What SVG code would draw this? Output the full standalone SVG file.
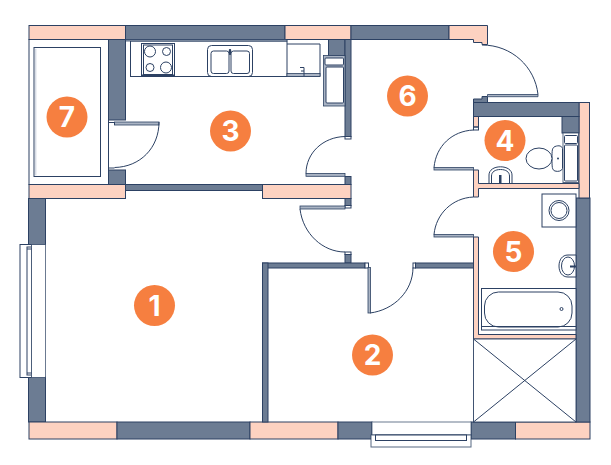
<svg xmlns="http://www.w3.org/2000/svg" width="611" height="465" viewBox="0 0 611 465">
<style>
.w{fill:#6c7c93;stroke:#2c4163;stroke-width:1}
.p{fill:#fdd2c1;stroke:#2c4163;stroke-width:1}
.l{fill:#fff;stroke:#2c4163;stroke-width:1}
.n{fill:none;stroke:#2c4163;stroke-width:1}
.s{fill:#aab4c4;stroke:#2c4163;stroke-width:.8}
.b{fill:#f67f40}
.t{fill:#fff;font-family:Inter,"Liberation Sans",sans-serif;font-weight:700;font-size:28px;text-anchor:middle}
</style>
<rect width="611" height="465" fill="#fff"/>
<g id="walls">
<rect class="n" x="29" y="39.5" width="79.5" height="145"/>
<rect class="p" x="29" y="25.5" width="96.5" height="14"/>
<rect class="w" x="125.5" y="25.5" width="159.5" height="14"/>
<path class="p" d="M285 25.5H351V39.5H285Z"/>
<rect class="w" x="351" y="25.5" width="98" height="14"/>
<path class="p" d="M449 25.5H487.5V44.5H482V42.5H473.5V39.5H449Z"/>
<rect class="w" x="108.5" y="39.5" width="17" height="80.500"/>
<rect class="w" x="108.500" y="170" width="17" height="14.500"/>
<rect class="w" x="125.500" y="184.500" width="137" height="6"/>
<rect class="p" x="29" y="184.500" width="96.500" height="14"/>
<rect class="p" x="262.500" y="184.500" width="88.500" height="14"/>
<rect class="w" x="28.500" y="198.500" width="17" height="46"/>
<rect class="w" x="28.500" y="377" width="17" height="45"/>
<rect class="p" x="29" y="422" width="88" height="17"/>
<rect class="w" x="117" y="422" width="133" height="17"/>
<rect class="p" x="250" y="422" width="88" height="17"/>
<rect class="w" x="338" y="422" width="34" height="17"/>
<rect class="w" x="471" y="422" width="44.500" height="17"/>
<rect class="p" x="515.500" y="422" width="74.500" height="17"/>
<rect class="w" x="576" y="198" width="14" height="224"/>
<rect class="p" x="579" y="102.500" width="10.500" height="95.500"/>
<rect class="w" x="473.500" y="102.500" width="105.500" height="14"/>
<path class="w" d="M473.500 102.500V99H482V96.500H487.500V102.500Z"/>
<rect class="w" x="562" y="116.500" width="17" height="16.500"/>
<rect class="p" x="473.500" y="116.500" width="5" height="10.500"/>
<path class="p" d="M473.500 170H478.500V183.500H579V188.500H478.500V197H473.500Z"/>
<path class="p" d="M473.500 237H478.500V334.500H576V339H473.500Z"/>
<rect class="w" x="328.500" y="39.500" width="16.500" height="16"/>
<rect class="w" x="345" y="39.500" width="6" height="97"/>
<rect class="l" x="345" y="136.500" width="6" height="2.500"/>
<rect class="w" x="345" y="176.500" width="6" height="8"/>
<rect class="w" x="345" y="198.500" width="6" height="7"/>
<rect class="l" x="345" y="205.500" width="6" height="2.500"/>
<rect class="l" x="345" y="252" width="6" height="2.500"/>
<rect class="w" x="345" y="254.500" width="6" height="8.500"/>
<rect class="w" x="262.500" y="263" width="102.500" height="5"/>
<rect class="l" x="365" y="263" width="3.500" height="5"/>
<rect class="w" x="262.500" y="263" width="5.500" height="159"/>
<rect class="l" x="413" y="263" width="2.500" height="5"/>
<rect class="w" x="415.500" y="263" width="58" height="5"/>
</g>
<g id="connectors">
<rect class="s" x="114.500" y="122" width="44.500" height="3"/>
<path class="n" d="M159 122C159 148 140 167 114.500 167.500"/>
<path class="n" d="M108.500 120V122.500H114.500V125M108.500 170V168H114.500"/>
<rect class="s" x="306" y="173.500" width="39" height="2.800"/>
<path class="n" d="M345 136.500C323 137 306 153 306 173.500"/>
<rect class="s" x="300" y="206" width="45" height="3"/>
<path class="n" d="M300 209C303 234 323 252 345 252"/>
<rect class="s" x="368" y="267.500" width="2.500" height="45.500"/>
<path class="n" d="M370 313C394 310 413 291 413 267.500"/>
<path class="s" d="M487.500 94.500H538V96.700H487.500Z"/>
<path class="n" d="M538 94.500C535 67 512 45 482 45"/>
<rect class="s" x="434" y="167.500" width="39.500" height="2.500"/>
<path class="n" d="M434 167.500C436 146 452 131 473.500 130"/>
<rect class="n" x="473.500" y="127" width="5" height="3"/>
<rect class="s" x="434" y="234.500" width="39.500" height="2.500"/>
<path class="n" d="M434 234.500C436 214 452 198 473.500 197"/>
</g>
<g id="balcony">
<rect class="n" x="34" y="47.500" width="66.500" height="129"/>
<rect x="35.300" y="48.800" width="1" height="126.500" fill="#c6cedb"/>
</g>
<g id="kitchen">
<rect class="l" x="130.500" y="41" width="156.500" height="35.500"/>
<rect class="s" x="125.500" y="39.500" width="161.500" height="1.500"/>
<rect class="n" x="141.500" y="43.500" width="33" height="32.500"/>
<rect class="n" x="143.500" y="45" width="29" height="29.500"/>
<rect x="141.500" y="74.500" width="33" height="2" fill="#2c4163"/>
<circle class="n" cx="150" cy="51.500" r="5.500"/>
<circle class="n" cx="166.500" cy="51.500" r="4"/>
<circle class="n" cx="150" cy="67.500" r="4"/>
<circle class="n" cx="166" cy="67.500" r="5.500"/>
<rect class="n" x="207.500" y="45.500" width="45" height="31" rx="4"/>
<rect class="n" x="211" y="51" width="18" height="22.500" rx="2.500"/>
<rect class="n" x="231" y="51" width="18.500" height="22.500" rx="2.500"/>
<rect x="228.800" y="49" width="2.400" height="6" rx="1" fill="#2c4163"/>
<path class="n" d="M287 44H320V76.500H287"/>
<rect class="s" x="287" y="73.500" width="33" height="3"/>
<path class="n" d="M300 67.500H304V76M301 71H304"/>
<rect class="s" x="323.500" y="55.500" width="21.500" height="50.500"/>
<rect class="l" x="325" y="58" width="18.500" height="7" rx="1"/>
<rect class="l" x="326" y="67" width="17.500" height="36" rx="1"/>
</g>
<g id="window-left">
<rect class="l" x="20" y="244.500" width="11.500" height="133"/>
<rect class="l" x="27" y="247" width="4.500" height="128"/>
<rect class="l" x="31.500" y="244.500" width="14" height="133" stroke-opacity=".7"/>
<path class="n" d="M27 249H31.500M27 373H31.500"/>
</g>
<g id="window-bottom">
<rect class="l" x="372" y="422" width="99" height="13" stroke-opacity=".7"/>
<rect class="l" x="371" y="435" width="100" height="12" stroke-opacity=".8"/>
<rect class="l" x="375.500" y="435" width="91" height="5.500"/>
</g>
<g id="bathroom">
<rect class="l" x="563" y="133" width="15.500" height="49.500" stroke-opacity=".8"/>
<rect class="l" x="564.500" y="135.500" width="13" height="8" rx="1"/>
<rect class="l" x="564.500" y="145" width="13" height="36" rx="1"/>
<path class="l" d="M555 146.500C559 145 562 146 562.500 148.500V168.500C562 171 558 172 555 171C552 170 552 167 552 158.500C552 150 552 148 555 146.500Z"/>
<ellipse class="l" cx="539" cy="158.500" rx="13" ry="10.500" stroke-width="1.300"/>
<circle cx="558" cy="158.500" r="1" fill="#2c4163"/>
<path class="l" d="M489 183V175C489 170 494 166.800 500.500 166.800C507 166.800 512 170 512 175V183"/>
<path class="n" d="M491.500 183V176C491.500 172 495 169.500 500.500 169.500C506 169.500 509.500 172 509.500 176V183"/>
<rect x="499" y="175" width="2.500" height="8" fill="#2c4163"/>
<rect class="l" x="542" y="194" width="34" height="33"/>
<circle class="n" cx="559" cy="210.500" r="10"/>
<circle class="n" cx="559" cy="210.500" r="8"/>
<path class="l" d="M576 255H568C562 255 559 260 559 266C559 272 562 277 568 277H576Z"/>
<ellipse class="n" cx="568" cy="266" rx="6.500" ry="9"/>
<rect x="570" y="265.500" width="6" height="2" fill="#2c4163"/>
<rect class="l" x="481.500" y="288.500" width="94.500" height="41.500"/>
<rect class="n" x="484.500" y="292" width="87.500" height="35" rx="14"/>
<circle class="n" cx="561.500" cy="309" r="1.500"/>
<path class="n" d="M478.500 334.500V285M481.500 326.500H576"/>
</g>
<g id="shaft">
<rect class="l" x="473.500" y="339" width="102.500" height="83" stroke-opacity=".9"/>
<path class="n" d="M473.500 339L576 422M576 339L473.500 422"/>
</g>
<g id="room-7"><circle class="b" cx="67" cy="117" r="20.500"/><text class="t" x="67" y="127">7</text></g>
<g id="room-3"><circle class="b" cx="230.500" cy="131" r="20.500"/><text class="t" x="230.500" y="141">3</text></g>
<g id="room-6"><circle class="b" cx="407.500" cy="96" r="20.500"/><text class="t" x="407.500" y="106">6</text></g>
<g id="room-4"><circle class="b" cx="505" cy="140.500" r="20.500"/><text class="t" x="505" y="150.500">4</text></g>
<g id="room-5"><circle class="b" cx="513.500" cy="251.500" r="20.500"/><text class="t" x="513.500" y="261.500">5</text></g>
<g id="room-1"><circle class="b" cx="154.500" cy="305.500" r="20.500"/><text class="t" x="154.500" y="315.500">1</text></g>
<g id="room-2"><circle class="b" cx="372.500" cy="355" r="20.500"/><text class="t" x="372.500" y="365">2</text></g>
</svg>
